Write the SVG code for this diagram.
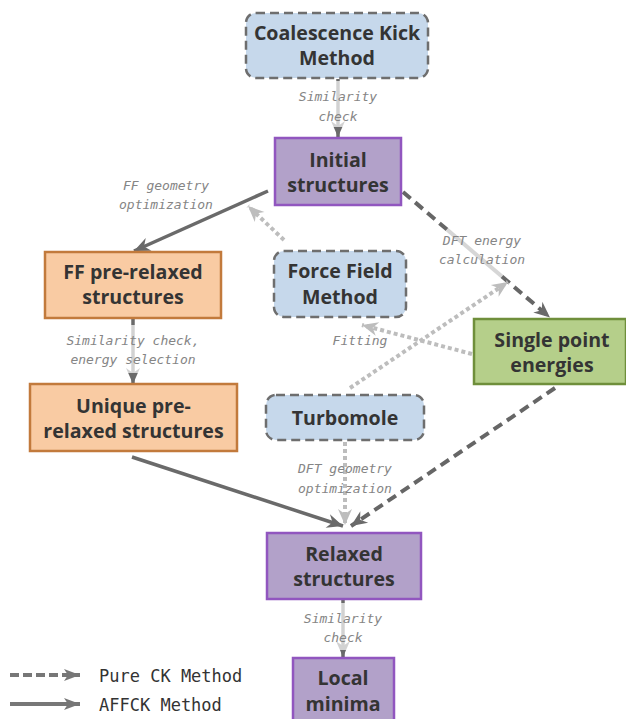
<svg xmlns="http://www.w3.org/2000/svg" width="626" height="719" viewBox="0 0 626 719">
  <style>
    .node-text { font-family: "Open Sans", "Noto Sans", "DejaVu Sans", sans-serif; font-weight: 700; font-size: 19.6px; fill: #343434; text-anchor: middle; }
    .edge-label { font-family: "DejaVu Sans Mono", "Liberation Mono", monospace; font-style: italic; font-size: 13px; fill: #858585; text-anchor: middle; }
    .legend-text { font-family: "DejaVu Sans Mono", "Liberation Mono", monospace; font-size: 17px; fill: #333; }
    .tool { fill: #c6d8eb; stroke: #6e6e6e; stroke-width: 2.5; stroke-dasharray: 9 5; }
    .data { fill: #b2a1c9; stroke: #9156bf; stroke-width: 2.5; }
    .ff { fill: #f9cba3; stroke: #c27a3c; stroke-width: 2.5; }
    .energy { fill: #b5cf8a; stroke: #6f8f3b; stroke-width: 2.5; }
    .solid { fill: none; stroke: #6a6a6a; stroke-width: 3.5; marker-end: url(#head-dark); }
    .dashed { fill: none; stroke: #666; stroke-width: 4; stroke-dasharray: 10 6; }
    .dotted { fill: none; stroke: #bdbdbd; stroke-width: 4; stroke-dasharray: 4 3; marker-end: url(#head-light); }
    .veil { fill: #fff; opacity: 0.7; }
  </style>
  <defs>
    <marker id="head-dark" markerUnits="userSpaceOnUse" markerWidth="18" markerHeight="14" refX="16" refY="7" orient="auto" overflow="visible">
      <path d="M0,0 L16,7 L0,14 L5,7 Z" fill="#6a6a6a"/>
    </marker>
    <marker id="head-light" markerUnits="userSpaceOnUse" markerWidth="18" markerHeight="14" refX="16" refY="7" orient="auto" overflow="visible">
      <path d="M0,0 L16,7 L0,14 L5,7 Z" fill="#bdbdbd"/>
    </marker>
    <marker id="head-legend" markerUnits="userSpaceOnUse" markerWidth="18" markerHeight="14" refX="16" refY="6" orient="auto" overflow="visible">
      <path d="M0,0 L16,6 L0,12 L4,6 Z" fill="#777"/>
    </marker>
  </defs>

  <!-- connectors -->
  <g id="connectors">
    <!-- vertical similarity-check steps (veiled behind their labels) -->
    <line class="solid" x1="338" y1="79" x2="338" y2="137"/>
    <rect class="veil" x="296" y="81" width="84" height="46"/>
    <line class="solid" x1="133" y1="318" x2="133" y2="384"/>
    <rect class="veil" x="62" y="325" width="142" height="48"/>
    <line class="solid" x1="343" y1="599" x2="343" y2="657"/>
    <rect class="veil" x="301" y="603" width="84" height="47"/>

    <!-- AFFCK route -->
    <line class="solid" x1="268" y1="191" x2="134" y2="251"/>
    <line class="solid" x1="132" y1="457" x2="343" y2="526"/>

    <!-- pure CK route -->
    <path class="dashed" d="M403,192 L447,229.6"/>
    <line x1="447" y1="229.6" x2="502" y2="276.6" stroke="#d6d6d6" stroke-width="4"/>
    <path class="dashed" d="M502,276.6 L550,317.5" marker-end="url(#head-dark)"/>
    <path class="dashed" d="M555,388 L351,526" marker-end="url(#head-dark)"/>

    <!-- tool usage -->
    <line class="dotted" x1="284" y1="240" x2="248" y2="206"/>
    <line class="dotted" x1="472" y1="354" x2="362" y2="325"/>
    <line class="dotted" x1="350" y1="388" x2="508" y2="282"/>
    <line class="dotted" x1="345" y1="442" x2="345" y2="525"/>
  </g>

  <!-- edge labels -->
  <g id="edge-labels">
    <text class="edge-label" x="338" y="101">Similarity</text>
    <text class="edge-label" x="338" y="121">check</text>
    <text class="edge-label" x="166" y="190">FF geometry</text>
    <text class="edge-label" x="166" y="209">optimization</text>
    <text class="edge-label" x="482" y="245">DFT energy</text>
    <text class="edge-label" x="482" y="264">calculation</text>
    <text class="edge-label" x="360" y="345">Fitting</text>
    <text class="edge-label" x="133" y="345">Similarity check,</text>
    <text class="edge-label" x="133" y="364">energy selection</text>
    <text class="edge-label" x="345" y="473">DFT geometry</text>
    <text class="edge-label" x="345" y="493">optimization</text>
    <text class="edge-label" x="343" y="623">Similarity</text>
    <text class="edge-label" x="343" y="642">check</text>
  </g>

  <!-- nodes -->
  <g id="coalescence-kick">
    <rect class="tool" x="246" y="13" width="182" height="65" rx="10"/>
    <text class="node-text" x="337" y="40">Coalescence Kick</text>
    <text class="node-text" x="337" y="65">Method</text>
  </g>
  <g id="initial-structures">
    <rect class="data" x="275" y="138" width="126" height="67"/>
    <text class="node-text" x="338" y="167">Initial</text>
    <text class="node-text" x="338" y="192">structures</text>
  </g>
  <g id="ff-pre-relaxed">
    <rect class="ff" x="45" y="252" width="176" height="66"/>
    <text class="node-text" x="133" y="279">FF pre-relaxed</text>
    <text class="node-text" x="133" y="304">structures</text>
  </g>
  <g id="force-field-method">
    <rect class="tool" x="274" y="251" width="132" height="66" rx="10"/>
    <text class="node-text" x="340" y="278">Force Field</text>
    <text class="node-text" x="340" y="304">Method</text>
  </g>
  <g id="single-point-energies">
    <rect class="energy" x="474" y="319" width="152" height="65"/>
    <text class="node-text" x="552" y="347">Single point</text>
    <text class="node-text" x="552" y="372">energies</text>
  </g>
  <g id="unique-pre-relaxed">
    <rect class="ff" x="30" y="384" width="207" height="67"/>
    <text class="node-text" x="133.5" y="413">Unique pre-</text>
    <text class="node-text" x="133.5" y="438">relaxed structures</text>
  </g>
  <g id="turbomole">
    <rect class="tool" x="266" y="395" width="158" height="45" rx="10"/>
    <text class="node-text" x="345" y="425">Turbomole</text>
  </g>
  <g id="relaxed-structures">
    <rect class="data" x="267" y="533" width="154" height="66"/>
    <text class="node-text" x="344" y="561">Relaxed</text>
    <text class="node-text" x="344" y="586">structures</text>
  </g>
  <g id="local-minima">
    <rect class="data" x="293" y="658" width="101" height="66"/>
    <text class="node-text" x="343" y="685">Local</text>
    <text class="node-text" x="343" y="711">minima</text>
  </g>

  <!-- legend -->
  <g id="legend">
    <line x1="10" y1="675" x2="80" y2="675" stroke="#777" stroke-width="4" stroke-dasharray="9 4" marker-end="url(#head-legend)"/>
    <line x1="10" y1="704" x2="80" y2="704" stroke="#777" stroke-width="4" marker-end="url(#head-legend)"/>
    <text class="legend-text" x="99" y="682">Pure CK Method</text>
    <text class="legend-text" x="99" y="711">AFFCK Method</text>
  </g>
</svg>
